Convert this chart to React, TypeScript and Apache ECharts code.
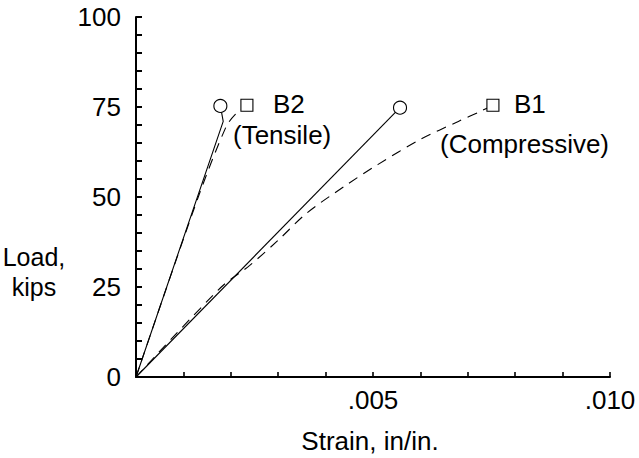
import React, { useEffect, useRef } from "react";
import * as echarts from "echarts";

const b2Solid: [number, number][] = [
  [0, 0], [0.00184, 71], [0.00178, 75.3],
];
const b2Dashed: [number, number][] = [
  [0, 0], [0.0013, 49.5], [0.0019, 69.5], [0.0021, 73], [0.00234, 75.5],
];
const b1Solid: [number, number][] = [
  [0, 0], [0.00557, 74.8],
];
const b1Dashed: [number, number][] = [
  [0, 0], [0.0018, 25], [0.0024, 31], [0.003, 38], [0.0036, 45.5], [0.0044, 53], [0.0051, 59],
  [0.006, 66], [0.0068, 71], [0.0073, 74], [0.00753, 75.5],
];
const xLabelValues = [0.005, 0.01];
const xLabelTexts = [".005", ".010"];
const yLabelValues = [0, 25, 50, 75, 100];
const yLabelTexts = ["0", "25", "50", "75", "100"];

const FONT = "'Liberation Sans', Arial, Helvetica, sans-serif";

function withEndSymbol(data: [number, number][], symbol: string, size: number) {
  return data.map((p, i) =>
    i === data.length - 1
      ? { value: p, symbol, symbolSize: size }
      : { value: p, symbol: "none" }
  );
}

function lineSeries(data: any[], dashed: boolean, smooth: number) {
  return {
    type: "line",
    data,
    showSymbol: true,
    showAllSymbol: true,
    smooth,
    lineStyle: { color: "#000", width: 1.1, type: dashed ? [10, 7] : "solid" },
    itemStyle: { color: "#fff", borderColor: "#000", borderWidth: 1.1 },
    emphasis: { disabled: true },
    z: 2,
  };
}

export default function App() {
  const ref = useRef<HTMLDivElement>(null);
  useEffect(() => {
    if (!ref.current) return;
    const chart = echarts.init(ref.current, null, { renderer: "svg" });
    chart.setOption({
      animation: false,
      backgroundColor: "#fff",
      grid: { left: 136, right: 29, top: 17, bottom: 81 },
      xAxis: {
        type: "value",
        min: 0,
        max: 0.01,
        interval: 0.001,
        axisLine: { show: true, onZero: false, lineStyle: { color: "#000", width: 2 } },
        axisTick: { show: true, inside: true, length: 5, lineStyle: { color: "#000", width: 1.6 } },
        splitLine: { show: false },
        axisLabel: {
          color: "#000",
          fontFamily: FONT,
          fontSize: 26,
          margin: 10,
          formatter: (v: number) => {
            const i = xLabelValues.findIndex((x) => Math.abs(x - v) < 1e-9);
            return i >= 0 ? xLabelTexts[i] : "";
          },
        },
      },
      yAxis: {
        type: "value",
        min: 0,
        max: 100,
        interval: 5,
        axisLine: { show: true, onZero: false, lineStyle: { color: "#000", width: 2 } },
        axisTick: { show: true, inside: true, length: 6, interval: 0, lineStyle: { color: "#000", width: 2 } },
        splitLine: { show: false },
        axisLabel: {
          color: "#000",
          fontFamily: FONT,
          fontSize: 26,
          margin: 15,
          formatter: (v: number) => {
            const i = yLabelValues.findIndex((y) => Math.abs(y - v) < 1e-9);
            return i >= 0 ? yLabelTexts[i] : "";
          },
        },
      },
      series: [
        lineSeries(withEndSymbol(b2Solid, "circle", 13), false, 0),
        lineSeries(withEndSymbol(b2Dashed, "rect", 12), true, 0.3),
        lineSeries(withEndSymbol(b1Solid, "circle", 13), false, 0),
        lineSeries(withEndSymbol(b1Dashed, "rect", 12), true, 0.3),
      ],
      graphic: [
        { type: "text", left: 273, top: 91, style: { text: "B2", font: `26px ${FONT}`, fill: "#000" } },
        { type: "text", left: 233, top: 122, style: { text: "(Tensile)", font: `26px ${FONT}`, fill: "#000" } },
        { type: "text", left: 514, top: 91, style: { text: "B1", font: `26px ${FONT}`, fill: "#000" } },
        { type: "text", left: 440, top: 131, style: { text: "(Compressive)", font: `26px ${FONT}`, fill: "#000" } },
        { type: "text", x: 34, y: 257, style: { text: "Load,", font: `25px ${FONT}`, fill: "#000", textAlign: "center", textVerticalAlign: "middle" } },
        { type: "text", x: 34, y: 287, style: { text: "kips", font: `25px ${FONT}`, fill: "#000", textAlign: "center", textVerticalAlign: "middle" } },
        { type: "text", x: 370, y: 441, style: { text: "Strain, in/in.", font: `26px ${FONT}`, fill: "#000", textAlign: "center", textVerticalAlign: "middle" } },
      ],
    });
    return () => chart.dispose();
  }, []);
  return <div ref={ref} style={{ width: 639, height: 458, position: "absolute", left: 0, top: 0 }} />;
}
